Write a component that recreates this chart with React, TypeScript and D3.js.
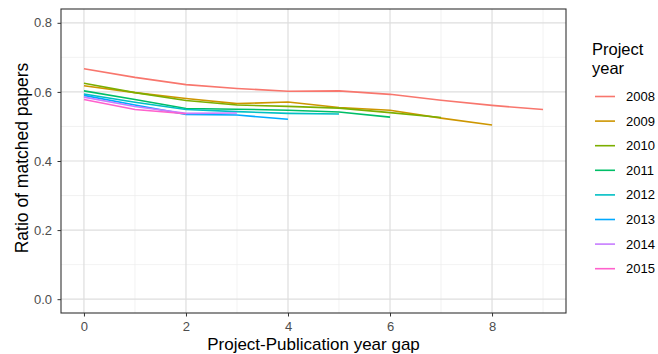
import { useEffect, useRef } from "react";
import * as d3 from "d3";

// project years and their colours (ggplot default hue palette)
const years = ["2008", "2009", "2010", "2011", "2012", "2013", "2014", "2015"];
const colors = ["#F8766D", "#CD9600", "#7CAE00", "#00BE67", "#00BFC4", "#00A9FF", "#C77CFF", "#FF61CC"];

// ratio of matched papers per year gap (index = gap)
const ratio2008 = [0.667, 0.642, 0.621, 0.610, 0.602, 0.603, 0.593, 0.576, 0.561, 0.549];
const ratio2009 = [0.618, 0.598, 0.581, 0.566, 0.571, 0.555, 0.547, 0.524, 0.504];
const ratio2010 = [0.625, 0.598, 0.575, 0.562, 0.558, 0.553, 0.540, 0.526];
const ratio2011 = [0.603, 0.578, 0.552, 0.550, 0.547, 0.542, 0.527];
const ratio2012 = [0.594, 0.570, 0.549, 0.543, 0.538, 0.536];
const ratio2013 = [0.590, 0.562, 0.535, 0.533, 0.521];
const ratio2014 = [0.585, 0.558, 0.538, 0.539];
const ratio2015 = [0.578, 0.549, 0.537];

const series = [ratio2008, ratio2009, ratio2010, ratio2011, ratio2012, ratio2013, ratio2014, ratio2015];

const xTicks = [0, 2, 4, 6, 8];
const xMinor = [1, 3, 5, 7, 9];
const yTicks = [0, 0.2, 0.4, 0.6, 0.8];
const yMinor = [0.1, 0.3, 0.5, 0.7];

export default function App() {
    const svgRef = useRef<SVGSVGElement>(null);

    useEffect(() => {
        const svg = d3.select(svgRef.current);
        svg.selectAll("*").remove();

        const panel = { left: 61, right: 566, top: 9, bottom: 313 };
        // ggplot style 5% expansion
        const x = d3.scaleLinear().domain([-0.45, 9.45]).range([panel.left, panel.right]);
        const y = d3.scaleLinear().domain([-0.04, 0.84]).range([panel.bottom, panel.top]);

        const font = "Liberation Sans, Arial, sans-serif";

        svg.append("rect")
            .attr("x", panel.left).attr("y", panel.top)
            .attr("width", panel.right - panel.left).attr("height", panel.bottom - panel.top)
            .attr("fill", "white");

        const grid = svg.append("g");
        grid.selectAll(".xminor").data(xMinor).join("line")
            .attr("x1", d => x(d)).attr("x2", d => x(d))
            .attr("y1", panel.top).attr("y2", panel.bottom)
            .attr("stroke", "#ececec").attr("stroke-width", 0.7);
        grid.selectAll(".yminor").data(yMinor).join("line")
            .attr("y1", d => y(d)).attr("y2", d => y(d))
            .attr("x1", panel.left).attr("x2", panel.right)
            .attr("stroke", "#ececec").attr("stroke-width", 0.7);
        grid.selectAll(".xmajor").data(xTicks).join("line")
            .attr("x1", d => x(d)).attr("x2", d => x(d))
            .attr("y1", panel.top).attr("y2", panel.bottom)
            .attr("stroke", "#dedede").attr("stroke-width", 1.2);
        grid.selectAll(".ymajor").data(yTicks).join("line")
            .attr("y1", d => y(d)).attr("y2", d => y(d))
            .attr("x1", panel.left).attr("x2", panel.right)
            .attr("stroke", "#dedede").attr("stroke-width", 1.2);

        const line = d3.line<number>()
            .x((_, i) => x(i))
            .y(d => y(d));

        svg.append("g").selectAll("path")
            .data(series)
            .join("path")
            .attr("d", d => line(d))
            .attr("fill", "none")
            .attr("stroke", (_, i) => colors[i])
            .attr("stroke-width", 1.6);

        svg.append("rect")
            .attr("x", panel.left).attr("y", panel.top)
            .attr("width", panel.right - panel.left).attr("height", panel.bottom - panel.top)
            .attr("fill", "none").attr("stroke", "#333").attr("stroke-width", 1.1);

        // axes
        const xAxis = svg.append("g")
            .attr("transform", `translate(0, ${panel.bottom})`)
            .call(d3.axisBottom(x).tickValues(xTicks).tickSize(3.5).tickPadding(5.5).tickFormat(d3.format("d")));
        const yAxis = svg.append("g")
            .attr("transform", `translate(${panel.left}, 0)`)
            .call(d3.axisLeft(y).tickValues(yTicks).tickSize(3.5).tickPadding(5.5).tickFormat(d3.format(".1f")));
        [xAxis, yAxis].forEach(a => {
            a.select(".domain").remove();
            a.selectAll("line").attr("stroke", "#333");
            a.selectAll("text").attr("fill", "#4d4d4d").attr("font-size", 13).attr("font-family", font);
        });

        svg.append("text")
            .attr("x", (panel.left + panel.right) / 2).attr("y", 350)
            .attr("text-anchor", "middle")
            .attr("font-size", 17).attr("font-family", font)
            .text("Project-Publication year gap");
        svg.append("text")
            .attr("transform", `translate(28, ${(panel.top + panel.bottom) / 2 - 3}) rotate(-90)`)
            .attr("text-anchor", "middle")
            .attr("font-size", 17.5).attr("font-family", font)
            .text("Ratio of matched papers");

        // legend
        const legend = svg.append("g");
        legend.append("text")
            .attr("x", 592).attr("y", 55)
            .attr("font-size", 16.5).attr("font-family", font)
            .text("Project");
        legend.append("text")
            .attr("x", 592).attr("y", 74)
            .attr("font-size", 16.5).attr("font-family", font)
            .text("year");
        const item = legend.selectAll(".item").data(years).join("g")
            .attr("transform", (_, i) => `translate(0, ${96.5 + i * 24.6})`);
        item.append("line")
            .attr("x1", 595).attr("x2", 615)
            .attr("stroke", (_, i) => colors[i]).attr("stroke-width", 1.6);
        item.append("text")
            .attr("x", 626).attr("y", 0).attr("dy", "0.35em")
            .attr("font-size", 13).attr("font-family", font)
            .text(d => d);
    }, []);

    return (
        <svg ref={svgRef} width={658} height={354}
            style={{ position: "absolute", left: 0, top: 0, background: "white" }} />
    );
}
